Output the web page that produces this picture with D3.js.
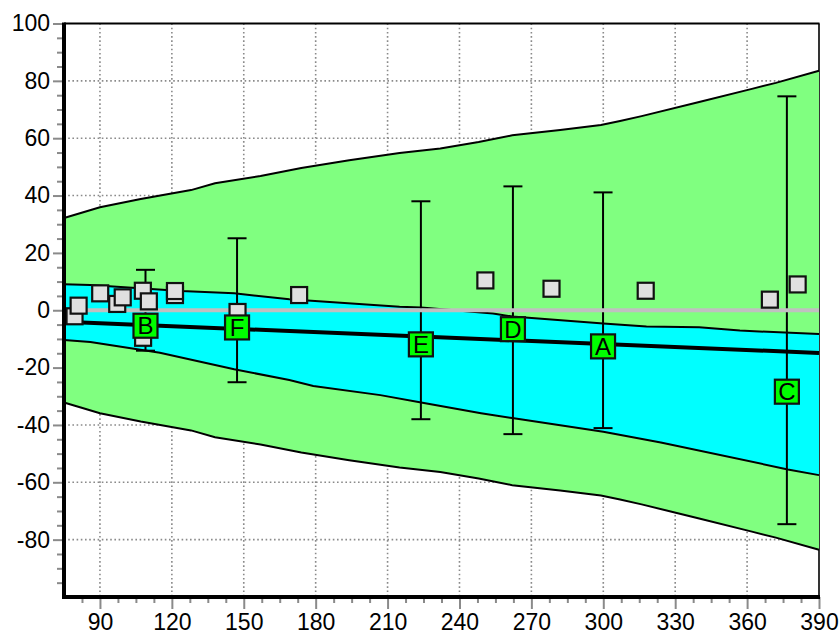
<!DOCTYPE html>
<html>
<head>
<meta charset="utf-8">
<script src="https://cdn.jsdelivr.net/npm/d3@7"></script>
<style>
  html, body { margin: 0; padding: 0; background: #fff; }
  svg { display: block; font-family: "Liberation Sans", Arial, sans-serif; }
</style>
</head>
<body>
<svg id="chart" width="840" height="635"></svg>
<script>
// Axis ranges and tick labels
const xDomain = [75, 390];
const yDomain = [-100, 100];
const xTickLabels = [90, 120, 150, 180, 210, 240, 270, 300, 330, 360, 390];
const yTickLabels = [100, 80, 60, 40, 20, 0, -20, -40, -60, -80];

// Outer (green) envelope: symmetric half-width around zero
const outerX    = [75, 82, 90, 107, 128, 138, 157, 174, 194, 215, 232, 248, 262, 282, 299, 307, 316, 340, 362, 372, 390];
const outerHalf = [32.2, 33.9, 35.9, 38.8, 41.9, 44.3, 46.8, 49.6, 52.3, 54.8, 56.4, 58.7, 61.0, 62.9, 64.6, 66.0, 67.7, 72.6, 77.2, 79.3, 83.5];

// Inner (cyan) band edges
const cyanUpperX = [75, 86, 124, 146, 169, 215, 224, 254, 262, 300, 318, 340, 357, 390];
const cyanUpperY = [9.1, 8.8, 6.7, 5.9, 3.8, 1.2, 1.0, -1.1, -2.2, -4.6, -5.7, -5.9, -7.1, -8.3];
const cyanLowerX = [75, 86, 115, 146, 169, 179, 207, 224, 249, 262, 300, 324, 377, 390];
const cyanLowerY = [-10.4, -11.1, -14.8, -20.6, -24.3, -26.4, -29.6, -32.2, -35.9, -37.6, -42.4, -46.1, -55.5, -57.5];

// Trend line end points
const trendX = [75, 390];
const trendY = [-4.0, -14.9];

// Labelled studies with symmetric interval half-widths around zero
const studyLabels = ["A", "B", "C", "D", "E", "F"];
const studyX      = [299.9, 109.0, 376.6, 262.3, 223.9, 147.2];
const studyY      = [-12.6, -5.4, -28.4, -6.6, -11.9, -6.0];
const studyCI     = [41.1, 14.1, 74.6, 43.2, 38.0, 25.1];

// Unlabelled points (in drawing order)
const pointX = [79.4, 81.1, 90.1, 97.2, 99.5, 107.9, 110.4, 108.0, 121.3, 121.3, 147.4, 173.1, 250.8, 278.4, 317.7, 369.5, 381.1];
const pointY = [-2.1, 1.6, 5.9, 2.2, 4.5, 6.8, 3.1, -9.6, 5.3, 6.7, -0.6, 5.3, 10.4, 7.5, 6.8, 3.7, 9.0];

const svg = d3.select("#chart");
const L = 64, R = 819, T = 23.5, B = 597;

const x = d3.scaleLinear().domain(xDomain).range([L, R]);
const y = d3.scaleLinear().domain(yDomain).range([B, T]);

// Dotted grid
const grid = svg.append("g").attr("stroke", "#8a8a8a").attr("stroke-width", 1.6).attr("stroke-dasharray", "1.6,2.6");
xTickLabels.filter(v => v < xDomain[1]).forEach(v => {
  grid.append("line").attr("x1", x(v)).attr("x2", x(v)).attr("y1", T).attr("y2", B);
});
yTickLabels.filter(v => v > yDomain[0] && v < yDomain[1]).forEach(v => {
  grid.append("line").attr("x1", L).attr("x2", R).attr("y1", y(v)).attr("y2", y(v));
});

// Frame top/right
svg.append("line").attr("x1", L).attr("x2", R + 0.5).attr("y1", T).attr("y2", T).attr("stroke", "#000").attr("stroke-width", 2);
svg.append("line").attr("x1", R).attr("x2", R).attr("y1", T).attr("y2", B).attr("stroke", "#000").attr("stroke-width", 1.6);

// Outer envelope
const outerPts = outerX.map((v, i) => [v, outerHalf[i]]);
const area = d3.area().x(d => x(d[0])).y0(d => y(d[1])).y1(d => y(d[2]));
svg.append("path")
  .datum(outerPts.map(d => [d[0], -d[1], d[1]]))
  .attr("d", area).attr("fill", "#80ff80");
const line = d3.line().x(d => x(d[0])).y(d => y(d[1]));
svg.append("path").datum(outerPts).attr("d", line).attr("fill", "none").attr("stroke", "#000").attr("stroke-width", 2);
svg.append("path").datum(outerPts.map(d => [d[0], -d[1]])).attr("d", line).attr("fill", "none").attr("stroke", "#000").attr("stroke-width", 2);

// Inner band (upper and lower edges sampled at their own x positions)
const upperPts = cyanUpperX.map((v, i) => [v, cyanUpperY[i]]);
const lowerPts = cyanLowerX.map((v, i) => [v, cyanLowerY[i]]);
const bandPath = line(upperPts) + "L" + line(lowerPts.slice().reverse()).slice(1) + "Z";
svg.append("path").attr("d", bandPath).attr("fill", "#00ffff");
svg.append("path").datum(upperPts).attr("d", line).attr("fill", "none").attr("stroke", "#000").attr("stroke-width", 2);
svg.append("path").datum(lowerPts).attr("d", line).attr("fill", "none").attr("stroke", "#000").attr("stroke-width", 2);

// Interval bars
const studies = studyLabels.map((s, i) => ({ label: s, x: studyX[i], y: studyY[i], ci: studyCI[i] }));
const bars = svg.append("g").attr("stroke", "#000").attr("stroke-width", 2);
studies.forEach(d => {
  bars.append("line").attr("x1", x(d.x)).attr("x2", x(d.x)).attr("y1", y(d.ci)).attr("y2", y(-d.ci));
  bars.append("line").attr("x1", x(d.x) - 9.5).attr("x2", x(d.x) + 9.5).attr("y1", y(d.ci)).attr("y2", y(d.ci));
  bars.append("line").attr("x1", x(d.x) - 9.5).attr("x2", x(d.x) + 9.5).attr("y1", y(-d.ci)).attr("y2", y(-d.ci));
});

// Zero reference line
svg.append("line").attr("x1", L).attr("x2", R).attr("y1", y(0)).attr("y2", y(0))
  .attr("stroke", "#c0c0c0").attr("stroke-width", 4);

// Trend line
svg.append("path").datum(trendX.map((v, i) => [v, trendY[i]])).attr("d", line)
  .attr("fill", "none").attr("stroke", "#000").attr("stroke-width", 4);

// Unlabelled points
const pts = pointX.map((v, i) => ({ x: v, y: pointY[i] }));
svg.append("g").selectAll("rect").data(pts).join("rect")
  .attr("x", d => x(d.x) - 8).attr("y", d => y(d.y) - 8)
  .attr("width", 16).attr("height", 16)
  .attr("fill", "#e0e0e0").attr("stroke", "#111").attr("stroke-width", 2.2);

// Labelled study markers
const mk = svg.append("g").selectAll("g").data(studies).join("g")
  .attr("transform", d => `translate(${x(d.x)},${y(d.y)})`);
mk.append("rect").attr("x", -12).attr("y", -12).attr("width", 24).attr("height", 24)
  .attr("fill", "#00ff00").attr("stroke", "#111").attr("stroke-width", 2.2);
mk.append("text").attr("text-anchor", "middle").attr("dy", "0.36em")
  .attr("font-size", 24).attr("fill", "#000").text(d => d.label);

// Axes
const minorX = d3.range(xDomain[0] + 7.5, xDomain[1] + 0.1, 7.5).filter(v => xTickLabels.indexOf(v) < 0);
const minorY = d3.range(yDomain[0] + 5, yDomain[1], 5).filter(v => yTickLabels.indexOf(v) < 0);
const plain = d => String(d);

const yMinor = svg.append("g").attr("transform", `translate(${L},0)`)
  .call(d3.axisLeft(y).tickValues(minorY).tickSize(7).tickFormat(""));
const yMajor = svg.append("g").attr("transform", `translate(${L},0)`)
  .call(d3.axisLeft(y).tickValues(yTickLabels).tickSize(11).tickPadding(3).tickFormat(plain));
const xMinor = svg.append("g").attr("transform", `translate(0,${B})`)
  .call(d3.axisBottom(x).tickValues(minorX).tickSize(6).tickFormat(""));
const xMajor = svg.append("g").attr("transform", `translate(0,${B})`)
  .call(d3.axisBottom(x).tickValues(xTickLabels).tickSize(12).tickPadding(4).tickFormat(plain));

[yMinor, yMajor, xMinor, xMajor].forEach(g => {
  g.select(".domain").remove();
  g.selectAll(".tick line").attr("stroke", "#8a8a8a").attr("stroke-width", 2);
  g.selectAll(".tick text").attr("font-size", 23).attr("fill", "#000")
    .attr("font-family", '"Liberation Sans", Arial, sans-serif');
});
xMajor.selectAll(".tick text").attr("dy", "0.76em");

// Thick left and bottom axis lines
svg.append("line").attr("x1", L).attr("x2", L).attr("y1", T - 1).attr("y2", B + 2)
  .attr("stroke", "#000").attr("stroke-width", 4);
svg.append("line").attr("x1", L - 2).attr("x2", R + 1).attr("y1", B).attr("y2", B)
  .attr("stroke", "#000").attr("stroke-width", 4);
</script>
</body>
</html>
